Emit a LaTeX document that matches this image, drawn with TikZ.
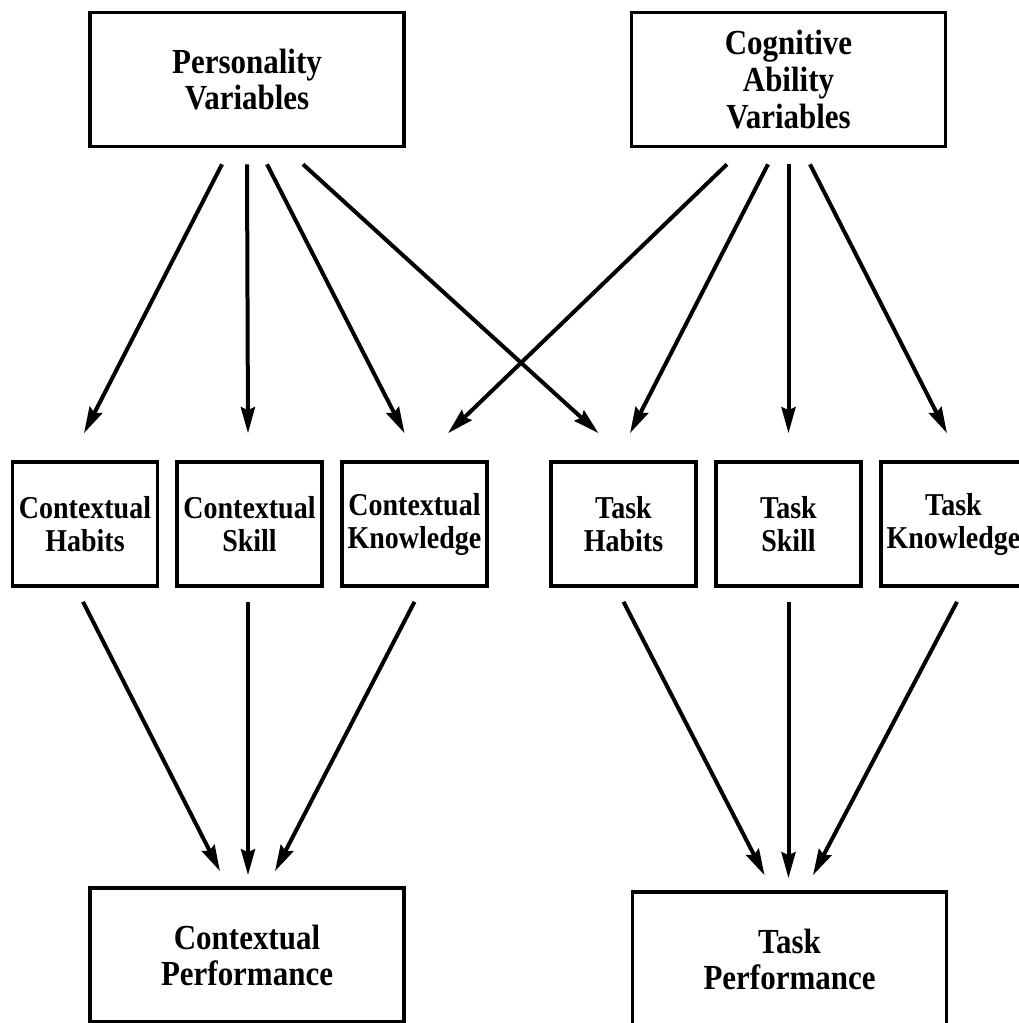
\documentclass[tikz,border=0pt]{standalone}
\usepackage{fontspec}
\setmainfont{Liberation Serif}
\newfontfamily\boxfont[FakeStretch=0.88]{Liberation Serif}
\usetikzlibrary{arrows.meta,calc}

\begin{document}
\begin{tikzpicture}
        [
            x = 0.5pt, y = -0.5pt,
            bigbox/.style = {draw, line width = 1.8pt, inner sep = 0pt, align = center,
                minimum width = 157pt, minimum height = 67pt,
                font = \boxfont\fontsize{17.6}{18}\selectfont\bfseries},
            smallbox/.style = {draw, line width = 1.8pt, inner sep = 0pt, align = center,
                minimum width = 72.5pt, minimum height = 62pt,
                font = \boxfont\fontsize{15.9}{16.5}\selectfont\bfseries},
            link/.style = {line width = 2pt, -{Stealth[length = 13pt, width = 7pt, inset = 1.5pt]}}]
        \useasboundingbox (0,0) rectangle (1018,1023);
        % predictors
        \node[bigbox] (pers) at (247,79.5) {Personality\\Variables};
        \node[bigbox, font = \boxfont\fontsize{17.6}{18.5}\selectfont\bfseries] (cog) at (788.5,79.5) {Cognitive\\Ability\\Variables};
        % middle row
        \node[smallbox] (ch) at (85,524) {Contextual\\Habits};
        \node[smallbox] (cs) at (249.5,524) {Contextual\\Skill};
        \node[smallbox] (ck) at (414.5,524) {Contextual\\Knowledge};
        \node[smallbox] (th) at (623.5,524) {Task\\Habits};
        \node[smallbox] (ts) at (788.5,524) {Task\\Skill};
        \node[smallbox] (tk) at (953.5,524) {Task\\Knowledge};
        % outcomes
        \node[bigbox] (cp) at (247,955) {Contextual\\Performance};
        \node[bigbox] (tp) at (789.5,959) {Task\\Performance};
        % personality
        \draw[link] ($(pers.south)+(-25,16)$) -- ($(ch.north)+(-1,-27)$);
        \draw[link] ($(pers.south)+(0,16)$) -- ($(cs.north)+(-1.5,-27)$);
        \draw[link] ($(pers.south)+(20,16)$) -- ($(ck.north)+(-10,-27)$);
        \draw[link] ($(pers.south)+(56,16)$) -- ($(th.north)+(-25,-27)$);
        % cognitive ability
        \draw[link] ($(cog.south)+(-61.5,16)$) -- ($(ck.north)+(33.5,-27)$);
        \draw[link] ($(cog.south)+(-20.5,16)$) -- ($(th.north)+(6.5,-27)$);
        \draw[link] ($(cog.south)+(0,16)$) -- ($(ts.north)+(0,-27)$);
        \draw[link] ($(cog.south)+(21.5,16)$) -- ($(tk.north)+(-6.5,-27)$);
        % to performance
        \draw[link] ($(ch.south)+(-2,14)$) -- ($(cp.north)+(-27,-15)$);
        \draw[link] ($(cs.south)+(-1.5,14)$) -- ($(cp.north)+(1,-11)$);
        \draw[link] ($(ck.south)+(0,14)$) -- ($(cp.north)+(28,-15)$);
        \draw[link] ($(th.south)+(0,14)$) -- ($(tp.north)+(-25,-15)$);
        \draw[link] ($(ts.south)+(0,14)$) -- ($(tp.north)+(-1,-12)$);
        \draw[link] ($(tk.south)+(3.5,14)$) -- ($(tp.north)+(23.5,-15)$);
    \end{tikzpicture}
\end{document}
